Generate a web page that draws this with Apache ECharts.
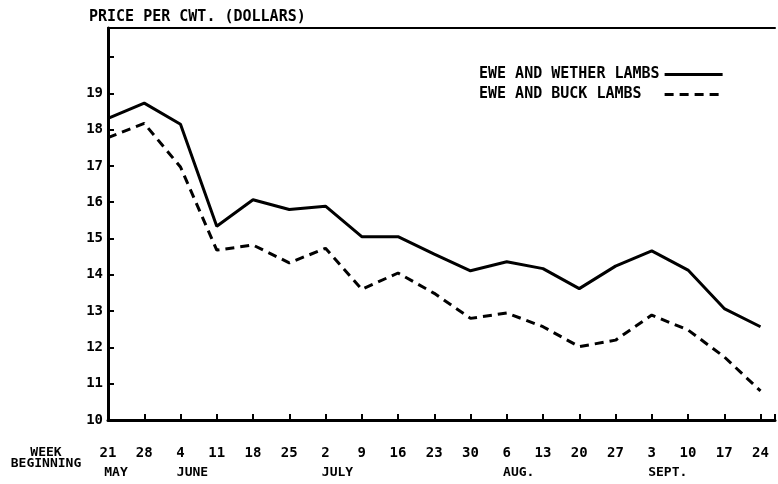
<!DOCTYPE html>
<html>
<head>
<meta charset="utf-8">
<script src="https://cdn.jsdelivr.net/npm/echarts@6/dist/echarts.min.js"></script>
<style>
* { margin: 0; padding: 0; }
#chart-container { width: 778px; height: 484px; background: #fff; }
</style>
</head>
<body>
<div id="chart-container"></div>
<script>
// week beginning dates, May 21 - Sept 24
const weeks = ['21', '28', '4', '11', '18', '25', '2', '9', '16', '23', '30', '6', '13', '20', '27', '3', '10', '17', '24'];
const months = ['MAY', '', 'JUNE', '', '', '', 'JULY', '', '', '', '', 'AUG.', '', '', '', 'SEPT.', '', '', ''];
// price per cwt (dollars)
const wetherLambs = [18.31, 18.73, 18.15, 15.34, 16.07, 15.80, 15.89, 15.05, 15.05, 14.57, 14.11, 14.36, 14.17, 13.62, 14.24, 14.66, 14.13, 13.07, 12.57];
const buckLambs = [17.78, 18.17, 16.97, 14.68, 14.82, 14.33, 14.73, 13.60, 14.05, 13.49, 12.80, 12.95, 12.57, 12.02, 12.20, 12.89, 12.48, 11.74, 10.80];
const seriesNames = ['EWE AND WETHER LAMBS', 'EWE AND BUCK LAMBS'];

const font = '"DejaVu Sans Mono", monospace';
const dom = document.getElementById('chart-container');
const myChart = echarts.init(dom, null, { renderer: 'canvas' });

// rich style per month so the name starts near the week label
let rich = { d: { fontSize: 14, fontWeight: 'bold', fontFamily: font, color: '#000', lineHeight: 20 } };
months.forEach((m, i) => {
    if (m) {
        rich['m' + i] = {
            fontSize: 13, fontWeight: 'bold', fontFamily: font, color: '#000', lineHeight: 20,
            padding: [0, 0, 0, Math.max(0, m.length * 8 - 8)]
        };
    }
});

let option = {
    animation: false,
    backgroundColor: '#fff',
    grid: { left: 108, top: 28, right: 0, bottom: 64, containLabel: false },
    title: {
        text: 'PRICE PER CWT. (DOLLARS)',
        left: 84, top: 5,
        textStyle: { fontFamily: font, fontSize: 15, fontWeight: 'bold', color: '#000' }
    },
    legend: {
        orient: 'vertical',
        left: 479, top: 67,
        padding: 0,
        align: 'right',
        itemWidth: 58, itemHeight: 14, itemGap: 5,
        itemStyle: { opacity: 0 },
        lineStyle: { width: 3 },
        formatter: name => name.padEnd(20, ' '),
        textStyle: { fontFamily: font, fontSize: 15, fontWeight: 'bold', color: '#000' },
        data: seriesNames
    },
    graphic: [{
        type: 'text',
        x: 46, y: 447,
        style: {
            text: 'WEEK\nBEGINNING',
            align: 'center',
            verticalAlign: 'top',
            fontFamily: font, fontSize: 13, fontWeight: 'bold',
            lineHeight: 11, fill: '#000'
        }
    }],
    xAxis: [{
        type: 'value',
        min: 0, max: 18.4, interval: 1,
        axisLine: { show: true, lineStyle: { color: '#000', width: 3 } },
        axisTick: { show: true, inside: true, length: 6, lineStyle: { color: '#000', width: 2 } },
        splitLine: { show: false },
        axisLabel: {
            margin: 23,
            formatter: function (v) {
                if (v !== Math.round(v) || !weeks[v]) return '';
                let s = '{d|' + weeks[v] + '}';
                if (months[v]) s += '\n{m' + v + '|' + months[v] + '}';
                return s;
            },
            rich: rich
        }
    }, {
        type: 'value',
        position: 'top',
        min: 0, max: 18.4,
        axisLine: { show: true, lineStyle: { color: '#000', width: 2 } },
        axisTick: { show: false },
        axisLabel: { show: false },
        splitLine: { show: false }
    }],
    yAxis: {
        type: 'value',
        min: 10, max: 20.8, interval: 1,
        axisLine: { show: true, lineStyle: { color: '#000', width: 3 } },
        axisTick: { show: true, inside: true, length: 6, lineStyle: { color: '#000', width: 2 } },
        splitLine: { show: false },
        axisLabel: {
            margin: 5,
            fontFamily: font, fontSize: 14, fontWeight: 'bold', color: '#000',
            formatter: v => (v >= 20 ? '' : String(v))
        }
    },
    series: [
        {
            name: seriesNames[0],
            type: 'line',
            symbol: 'none',
            xAxisIndex: 0,
            lineStyle: { color: '#000', width: 3 },
            itemStyle: { color: '#000' },
            data: wetherLambs.map((v, i) => [i, v])
        },
        {
            name: seriesNames[1],
            type: 'line',
            symbol: 'none',
            xAxisIndex: 0,
            lineStyle: { color: '#000', width: 3, type: [9, 6] },
            itemStyle: { color: '#000' },
            data: buckLambs.map((v, i) => [i, v])
        }
    ]
};

myChart.setOption(option);
window.addEventListener('resize', () => { myChart.resize(); });
</script>
</body>
</html>
